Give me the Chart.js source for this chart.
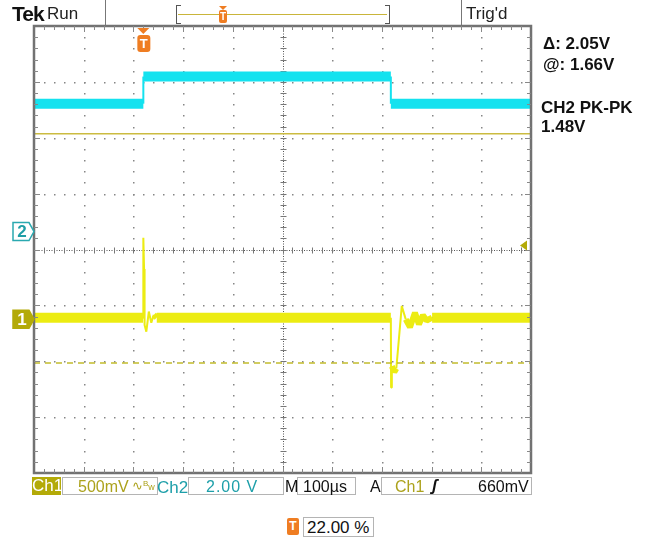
<!DOCTYPE html>
<html>
<head>
<meta charset="utf-8">
<script src="https://cdn.jsdelivr.net/npm/chart.js@4.4.1/dist/chart.umd.min.js"></script>
<style>
  body { margin: 0; background: #fff; }
  #scope { position: relative; width: 659px; height: 544px; font-family: "Liberation Sans", Arial, sans-serif; }
  #scope canvas { position: absolute; left: 0; top: 0; }
  .t { position: absolute; white-space: nowrap; line-height: 1; }
  .box { position: absolute; background: #fff; border: 1px solid #b4b4b4; box-sizing: border-box; }
  .sep { position: absolute; width: 1px; background: #777; }
  .info { font-weight: bold; font-size: 17px; color: #111; }
  .st { font-size: 16px; }
</style>
</head>
<body>
<div id="scope">
  <canvas id="screen" width="659" height="544"></canvas>

  <!-- bandeau du haut -->
  <div class="t" style="left:12px;top:3px;font-size:21px;font-weight:bold;letter-spacing:-1px;color:#111">Tek</div>
  <div class="t" style="left:47px;top:5px;font-size:17px;color:#222">Run</div>
  <div class="sep" style="left:105px;top:0;height:25px"></div>
  <div style="position:absolute;left:176px;top:5px;width:4px;height:17px;border:1px solid #555;border-right:none"></div>
  <div style="position:absolute;left:385px;top:5px;width:4px;height:17px;border:1px solid #555;border-left:none"></div>
  <div style="position:absolute;left:178px;top:14px;width:209px;height:1px;background:#c9b53a"></div>
  <div style="position:absolute;left:219px;top:6px;width:0;height:0;border-left:4px solid transparent;border-right:4px solid transparent;border-top:4px solid #ef7d22"></div>
  <div class="t" style="left:219px;top:10px;width:8px;height:13px;background:#ef7d22;border-radius:2px;color:#fff;font-size:10px;font-weight:bold;text-align:center;line-height:13px">T</div>
  <div class="sep" style="left:461px;top:0;height:25px"></div>
  <div class="t" style="left:466px;top:5px;font-size:17px;color:#222">Trig'd</div>

  <!-- mesures à droite -->
  <div class="t info" id="mDelta" style="left:543px;top:35px"></div>
  <div class="t info" id="mAt" style="left:543px;top:56px"></div>
  <div class="t info" id="mPkName" style="left:541px;top:99px"></div>
  <div class="t info" id="mPk" style="left:541px;top:118px"></div>

  <!-- barre d'état -->
  <div class="t st" style="left:32px;top:477px;width:29px;height:18px;background:#b3aa08;color:#fff;text-align:center;line-height:18px;font-size:17px">Ch1</div>
  <div class="box" style="left:62px;top:477px;width:96px;height:18px"></div>
  <div class="t st" id="sCh1" style="left:78px;top:479px;color:#aca21c"></div>
  <div class="t" style="left:132px;top:479px;font-size:13px;color:#aca21c">∿<span style="font-size:8px;vertical-align:4px">B</span><span style="font-size:9px">w</span></div>
  <div class="t st" style="left:157px;top:479px;color:#1d9fa9;font-size:17px">Ch2</div>
  <div class="box" style="left:188px;top:477px;width:96px;height:18px"></div>
  <div class="t st" id="sCh2" style="left:206px;top:479px;color:#1d9fa9;letter-spacing:1px"></div>
  <div class="t st" style="left:285px;top:479px;color:#111">M</div>
  <div class="box" style="left:297px;top:477px;width:59px;height:18px"></div>
  <div class="t st" id="sTime" style="left:303px;top:479px;color:#111"></div>
  <div class="t st" style="left:370px;top:479px;color:#111">A</div>
  <div class="box" style="left:381px;top:477px;width:151px;height:18px"></div>
  <div class="t st" style="left:395px;top:479px;color:#aca21c">Ch1</div>
  <div class="t" style="left:432px;top:478px;font-size:16px;font-weight:bold;font-style:italic;color:#111">ʃ</div>
  <div class="t st" id="sTrig" style="left:478px;top:479px;color:#111"></div>

  <!-- position du déclenchement -->
  <div class="t" style="left:287px;top:518px;width:12px;height:17px;background:#ef7d22;border-radius:2px;color:#fff;font-size:12px;font-weight:bold;text-align:center;line-height:17px">T</div>
  <div class="box" style="left:303px;top:517px;width:71px;height:20px"></div>
  <div class="t" id="sPos" style="left:307px;top:519px;font-size:17px;color:#111"></div>
</div>

<script>
// Réglages de l'oscillo
const ch1VoltsPerDiv = 0.5;
const ch2VoltsPerDiv = 2;
const ch1Position = -1.25;   // divisions
const ch2Position = 0.32;
const timePerDiv = 100;      // µs
const triggerPercent = 22;
const triggerLevel = 0.66;   // V, voie 1

// Voie 2 (cyan) : créneau
const ch2Time  = [0, 220, 220, 718, 718, 1000];
const ch2Volts = [4.58, 4.58, 5.55, 5.55, 4.58, 4.58];

// Voie 1 (jaune) : pics sur les fronts
const ch1Time  = [0, 219.5, 220, 221.5, 222.5, 226, 231, 236, 241, 247, 718, 718.5, 720, 725, 729, 740, 748, 756.5, 766.5, 774.5, 782.5, 790, 801, 1000];
const ch1Volts = [0.015, 0.015, 0.73, 0.45, -0.05, -0.11, 0.07, -0.03, 0.04, 0.015, 0.015, -0.61, -0.42, -0.47, -0.44, 0.12, 0.0, -0.07, 0.06, -0.045, 0.036, -0.01, 0.015, 0.015];

// Curseurs horizontaux (voie 1)
const cursorVolts = [1.66, -0.39];
const ch2PkPk = 1.48;

// Textes
document.getElementById('mDelta').textContent = '\u0394: ' + (cursorVolts[0] - cursorVolts[1]).toFixed(2) + 'V';
document.getElementById('mAt').textContent = '@: ' + cursorVolts[0].toFixed(2) + 'V';
document.getElementById('mPkName').textContent = 'CH2 PK-PK';
document.getElementById('mPk').textContent = ch2PkPk.toFixed(2) + 'V';
document.getElementById('sCh1').textContent = (ch1VoltsPerDiv * 1000) + 'mV';
document.getElementById('sCh2').textContent = ch2VoltsPerDiv.toFixed(2) + ' V';
document.getElementById('sTime').textContent = timePerDiv + 'µs';
document.getElementById('sTrig').textContent = Math.round(triggerLevel * 1000) + 'mV';
document.getElementById('sPos').textContent = triggerPercent.toFixed(2) + ' %';

const toPoints = (t, v, vdiv, pos) => t.map((x, i) => ({ x: x, y: v[i] / vdiv + pos }));
const triggerTime = triggerPercent / 100 * timePerDiv * 10;

// épaisseur : bande de bruit sur les paliers, trait fin sur les fronts
function traceWidth(ctx) {
  const a = ctx.p0, b = ctx.p1;
  if (a.parsed.y === b.parsed.y) return 10;
  return Math.abs(b.y - a.y) > 3 * Math.abs(b.x - a.x) ? 2 : 6;
}

// Graticule
const graticule = {
  id: 'graticule',
  beforeDatasetsDraw(chart) {
    const { ctx, scales: { x, y } } = chart;
    ctx.save();
    ctx.fillStyle = '#868686';
    for (let i = 1; i < 10; i++) {
      if (i === 5) continue;
      const px = Math.round(x.getPixelForValue(i * timePerDiv));
      for (let j = 1; j < 40; j++) {
        ctx.fillRect(px, Math.round(y.getPixelForValue(-4 + j * 0.2)), 1.5, 1.5);
      }
    }
    for (let j = -3; j <= 3; j++) {
      if (j === 0) continue;
      const py = Math.round(y.getPixelForValue(j));
      for (let i = 1; i < 50; i++) {
        ctx.fillRect(Math.round(x.getPixelForValue(i * timePerDiv / 5)), py, 1.5, 1.5);
      }
    }
    // axes centraux
    const cx = Math.round(x.getPixelForValue(5 * timePerDiv)) + 0.5;
    const cy = Math.round(y.getPixelForValue(0)) + 0.5;
    ctx.strokeStyle = '#555';
    ctx.lineWidth = 1;
    ctx.setLineDash([1, 1.5]);
    ctx.beginPath();
    ctx.moveTo(cx, y.top); ctx.lineTo(cx, y.bottom);
    ctx.moveTo(x.left, cy); ctx.lineTo(x.right, cy);
    ctx.stroke();
    ctx.setLineDash([]);
    ctx.strokeStyle = '#777';
    ctx.beginPath();
    for (let i = 1; i < 50; i++) {
      const px = Math.round(x.getPixelForValue(i * timePerDiv / 5)) + 0.5;
      ctx.moveTo(px, cy - 3); ctx.lineTo(px, cy + 3);
    }
    for (let j = 1; j < 40; j++) {
      const py = Math.round(y.getPixelForValue(-4 + j * 0.2)) + 0.5;
      ctx.moveTo(cx - 3, py); ctx.lineTo(cx + 3, py);
    }
    ctx.stroke();
    ctx.restore();
  },
  afterDatasetsDraw(chart) {
    const { ctx, chartArea: a, scales: { x, y } } = chart;
    ctx.save();
    // cadre
    ctx.strokeStyle = '#727272';
    ctx.lineWidth = 2.5;
    ctx.strokeRect(a.left, a.top, a.right - a.left, a.bottom - a.top);
    ctx.lineWidth = 1;
    ctx.strokeStyle = '#888';
    ctx.beginPath();
    for (let i = 1; i < 50; i++) {
      const px = Math.round(x.getPixelForValue(i * timePerDiv / 5)) + 0.5;
      const len = i % 5 === 0 ? 6 : 4;
      ctx.moveTo(px, a.top); ctx.lineTo(px, a.top + len);
      ctx.moveTo(px, a.bottom); ctx.lineTo(px, a.bottom - len);
    }
    for (let j = 1; j < 40; j++) {
      const py = Math.round(y.getPixelForValue(-4 + j * 0.2)) + 0.5;
      const len = j % 5 === 0 ? 6 : 4;
      ctx.moveTo(a.left, py); ctx.lineTo(a.left + len, py);
      ctx.moveTo(a.right, py); ctx.lineTo(a.right - len, py);
    }
    ctx.stroke();

    // repères de voies
    const marker = (py, fill, stroke, label, textColor) => {
      ctx.beginPath();
      ctx.moveTo(13, py - 9); ctx.lineTo(29, py - 9); ctx.lineTo(34, py);
      ctx.lineTo(29, py + 9); ctx.lineTo(13, py + 9); ctx.closePath();
      ctx.fillStyle = fill; ctx.fill();
      ctx.lineWidth = 1.5; ctx.strokeStyle = stroke; ctx.stroke();
      ctx.fillStyle = textColor;
      ctx.font = 'bold 17px "Liberation Sans", Arial, sans-serif';
      ctx.textAlign = 'center'; ctx.textBaseline = 'middle';
      ctx.fillText(label, 22, py + 1);
    };
    marker(y.getPixelForValue(ch2Position), '#fff', '#2aa9b0', '2', '#1f9ea6');
    marker(y.getPixelForValue(ch1Position), '#b3aa08', '#b3aa08', '1', '#fff');

    // repère de déclenchement (haut)
    const tx = x.getPixelForValue(triggerTime);
    ctx.fillStyle = '#ef7d22';
    ctx.beginPath();
    ctx.moveTo(tx - 6, 28); ctx.lineTo(tx + 6, 28); ctx.lineTo(tx, 34); ctx.closePath();
    ctx.fill();
    ctx.beginPath();
    ctx.roundRect(tx - 6, 35, 13, 17, 3);
    ctx.fill();
    ctx.fillStyle = '#fff';
    ctx.font = 'bold 13px "Liberation Sans", Arial, sans-serif';
    ctx.fillText('T', tx + 0.5, 44);

    // niveau de déclenchement (droite)
    const ty = y.getPixelForValue(triggerLevel / ch1VoltsPerDiv + ch1Position);
    ctx.fillStyle = '#b3aa08';
    ctx.beginPath();
    ctx.moveTo(a.right - 11, ty); ctx.lineTo(a.right - 4, ty - 5); ctx.lineTo(a.right - 4, ty + 5); ctx.closePath();
    ctx.fill();
    ctx.restore();
  }
};

const ctx = document.getElementById('screen').getContext('2d');
new Chart(ctx, {
  type: 'scatter',
  data: {
    datasets: [
      {
        label: 'CH2',
        data: toPoints(ch2Time, ch2Volts, ch2VoltsPerDiv, ch2Position),
        borderColor: '#14e2ef',
        segment: { borderWidth: traceWidth },
        order: 2
      },
      {
        label: 'CH1',
        data: toPoints(ch1Time, ch1Volts, ch1VoltsPerDiv, ch1Position),
        borderColor: '#ecec12',
        segment: { borderWidth: traceWidth },
        order: 1
      },
      {
        label: 'Curseur 1',
        data: toPoints([0, 1000], [cursorVolts[0], cursorVolts[0]], ch1VoltsPerDiv, ch1Position),
        borderColor: '#cbbb40',
        borderWidth: 1.5,
        order: 3
      },
      {
        label: 'Curseur 2',
        data: toPoints([0, 1000], [cursorVolts[1], cursorVolts[1]], ch1VoltsPerDiv, ch1Position),
        borderColor: '#c2bc2c',
        borderWidth: 1.5,
        borderDash: [6, 5],
        order: 0
      }
    ]
  },
  options: {
    responsive: false,
    animation: false,
    layout: { padding: { left: 34, right: 128, top: 26, bottom: 71 } },
    datasets: {
      scatter: {
        showLine: true,
        pointRadius: 0,
        tension: 0,
        borderCapStyle: 'butt',
        borderJoinStyle: 'bevel'
      }
    },
    plugins: {
      legend: { display: false },
      tooltip: { enabled: false }
    },
    scales: {
      x: { type: 'linear', min: 0, max: 10 * timePerDiv, display: false },
      y: { type: 'linear', min: -4, max: 4, display: false }
    }
  },
  plugins: [graticule]
});
</script>
</body>
</html>
